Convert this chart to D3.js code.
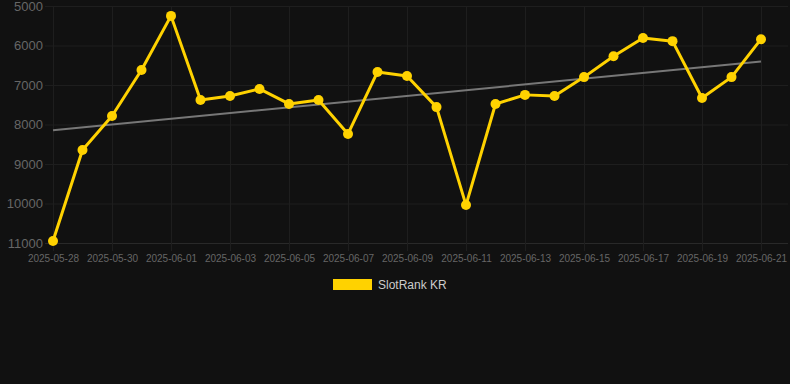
<!DOCTYPE html>
<html>
<head>
<meta charset="utf-8">
<script src="https://cdn.jsdelivr.net/npm/d3@7"></script>
<style>
  html, body { margin: 0; padding: 0; background: #111111; }
  svg { display: block; font-family: "Liberation Sans", Arial, sans-serif; }
</style>
</head>
<body>
<div id="chart"></div>
<script>
// data
var dates = ["2025-05-28","2025-05-29","2025-05-30","2025-05-31","2025-06-01","2025-06-02",
  "2025-06-03","2025-06-04","2025-06-05","2025-06-06","2025-06-07","2025-06-08","2025-06-09",
  "2025-06-10","2025-06-11","2025-06-12","2025-06-13","2025-06-14","2025-06-15","2025-06-16",
  "2025-06-17","2025-06-18","2025-06-19","2025-06-20","2025-06-21"];
var ranks = [10950, 8645, 7785, 6620, 5250, 7380, 7280, 7100, 7480, 7380, 8240, 6670, 6770,
  7560, 10040, 7480, 7250, 7280, 6800, 6270, 5810, 5890, 7330, 6800, 5840];
var yTicks = [5000, 6000, 7000, 8000, 9000, 10000, 11000];
var seriesName = "SlotRank KR";

var svgWidth = 790;
var svgHeight = 384;
var plot = { left: 45, right: 788, top: 6, bottom: 243 };
var lineColor = "#ffd200";

var parse = d3.timeParse("%Y-%m-%d");
var data = dates.map(function(d, i) { return { date: parse(d), rank: ranks[i], i: i }; });

var svg = d3.select("#chart")
    .append("svg")
    .attr("width", svgWidth)
    .attr("height", svgHeight);

var x = d3.scaleTime()
    .domain([data[0].date, data[data.length - 1].date])
    .range([53, 761]);

var y = d3.scaleLinear()
    .domain([5000, 11000])
    .range([plot.top, plot.bottom]);

var xTicks = data.filter(function(d) { return d.i % 2 === 0; }).map(function(d) { return d.date; });

// gridlines
var gridColor = "#1e1e1e";
svg.append("g")
    .selectAll("line")
    .data(yTicks)
    .enter()
    .append("line")
    .attr("x1", plot.left)
    .attr("x2", plot.right)
    .attr("y1", d => y(d) + 0.5)
    .attr("y2", d => y(d) + 0.5)
    .attr("stroke", d => d === 11000 ? "#292929" : gridColor);

svg.append("g")
    .selectAll("line")
    .data(xTicks)
    .enter()
    .append("line")
    .attr("x1", d => Math.round(x(d)) + 0.5)
    .attr("x2", d => Math.round(x(d)) + 0.5)
    .attr("y1", plot.top)
    .attr("y2", plot.bottom + 8)
    .attr("stroke", gridColor);

// y axis labels
var yAxis = d3.axisLeft(y).tickValues(yTicks).tickFormat(d3.format("d")).tickSize(0).tickPadding(0);
var yg = svg.append("g")
    .attr("transform", "translate(43,0)")
    .call(yAxis);
yg.select(".domain").remove();
yg.selectAll("text")
    .attr("fill", "#666")
    .style("font-size", "13px");

// x axis labels
var xAxis = d3.axisBottom(x).tickValues(xTicks).tickFormat(d3.timeFormat("%Y-%m-%d")).tickSize(0).tickPadding(0);
var xg = svg.append("g")
    .attr("transform", "translate(0," + 255 + ")")
    .call(xAxis);
xg.select(".domain").remove();
xg.selectAll("text")
    .attr("fill", "#666")
    .style("font-size", "10px");

// trend line (least squares fit of the series)
var n = data.length;
var mx = d3.mean(data, d => d.i);
var my = d3.mean(data, d => d.rank);
var slope = d3.sum(data, d => (d.i - mx) * (d.rank - my)) / d3.sum(data, d => (d.i - mx) * (d.i - mx));
var icpt = my - slope * mx;
svg.append("line")
    .attr("x1", x(data[0].date))
    .attr("y1", y(icpt))
    .attr("x2", x(data[n - 1].date))
    .attr("y2", y(icpt + slope * (n - 1)))
    .attr("stroke", "#777")
    .attr("stroke-width", 2);

// series line
var line = d3.line()
    .x(d => x(d.date))
    .y(d => y(d.rank));

svg.append("path")
    .datum(data)
    .attr("fill", "none")
    .attr("stroke", lineColor)
    .attr("stroke-width", 3)
    .attr("stroke-linejoin", "round")
    .attr("d", line);

svg.append("g")
    .selectAll("circle")
    .data(data)
    .enter()
    .append("circle")
    .attr("cx", d => x(d.date))
    .attr("cy", d => y(d.rank))
    .attr("r", 5)
    .attr("fill", lineColor);

// legend
svg.append("rect")
    .attr("x", 333)
    .attr("y", 279)
    .attr("width", 39)
    .attr("height", 11)
    .attr("fill", lineColor);

svg.append("text")
    .attr("x", 378)
    .attr("y", 289)
    .attr("fill", "#ccc")
    .style("font-size", "12px")
    .text(seriesName);
</script>
</body>
</html>
